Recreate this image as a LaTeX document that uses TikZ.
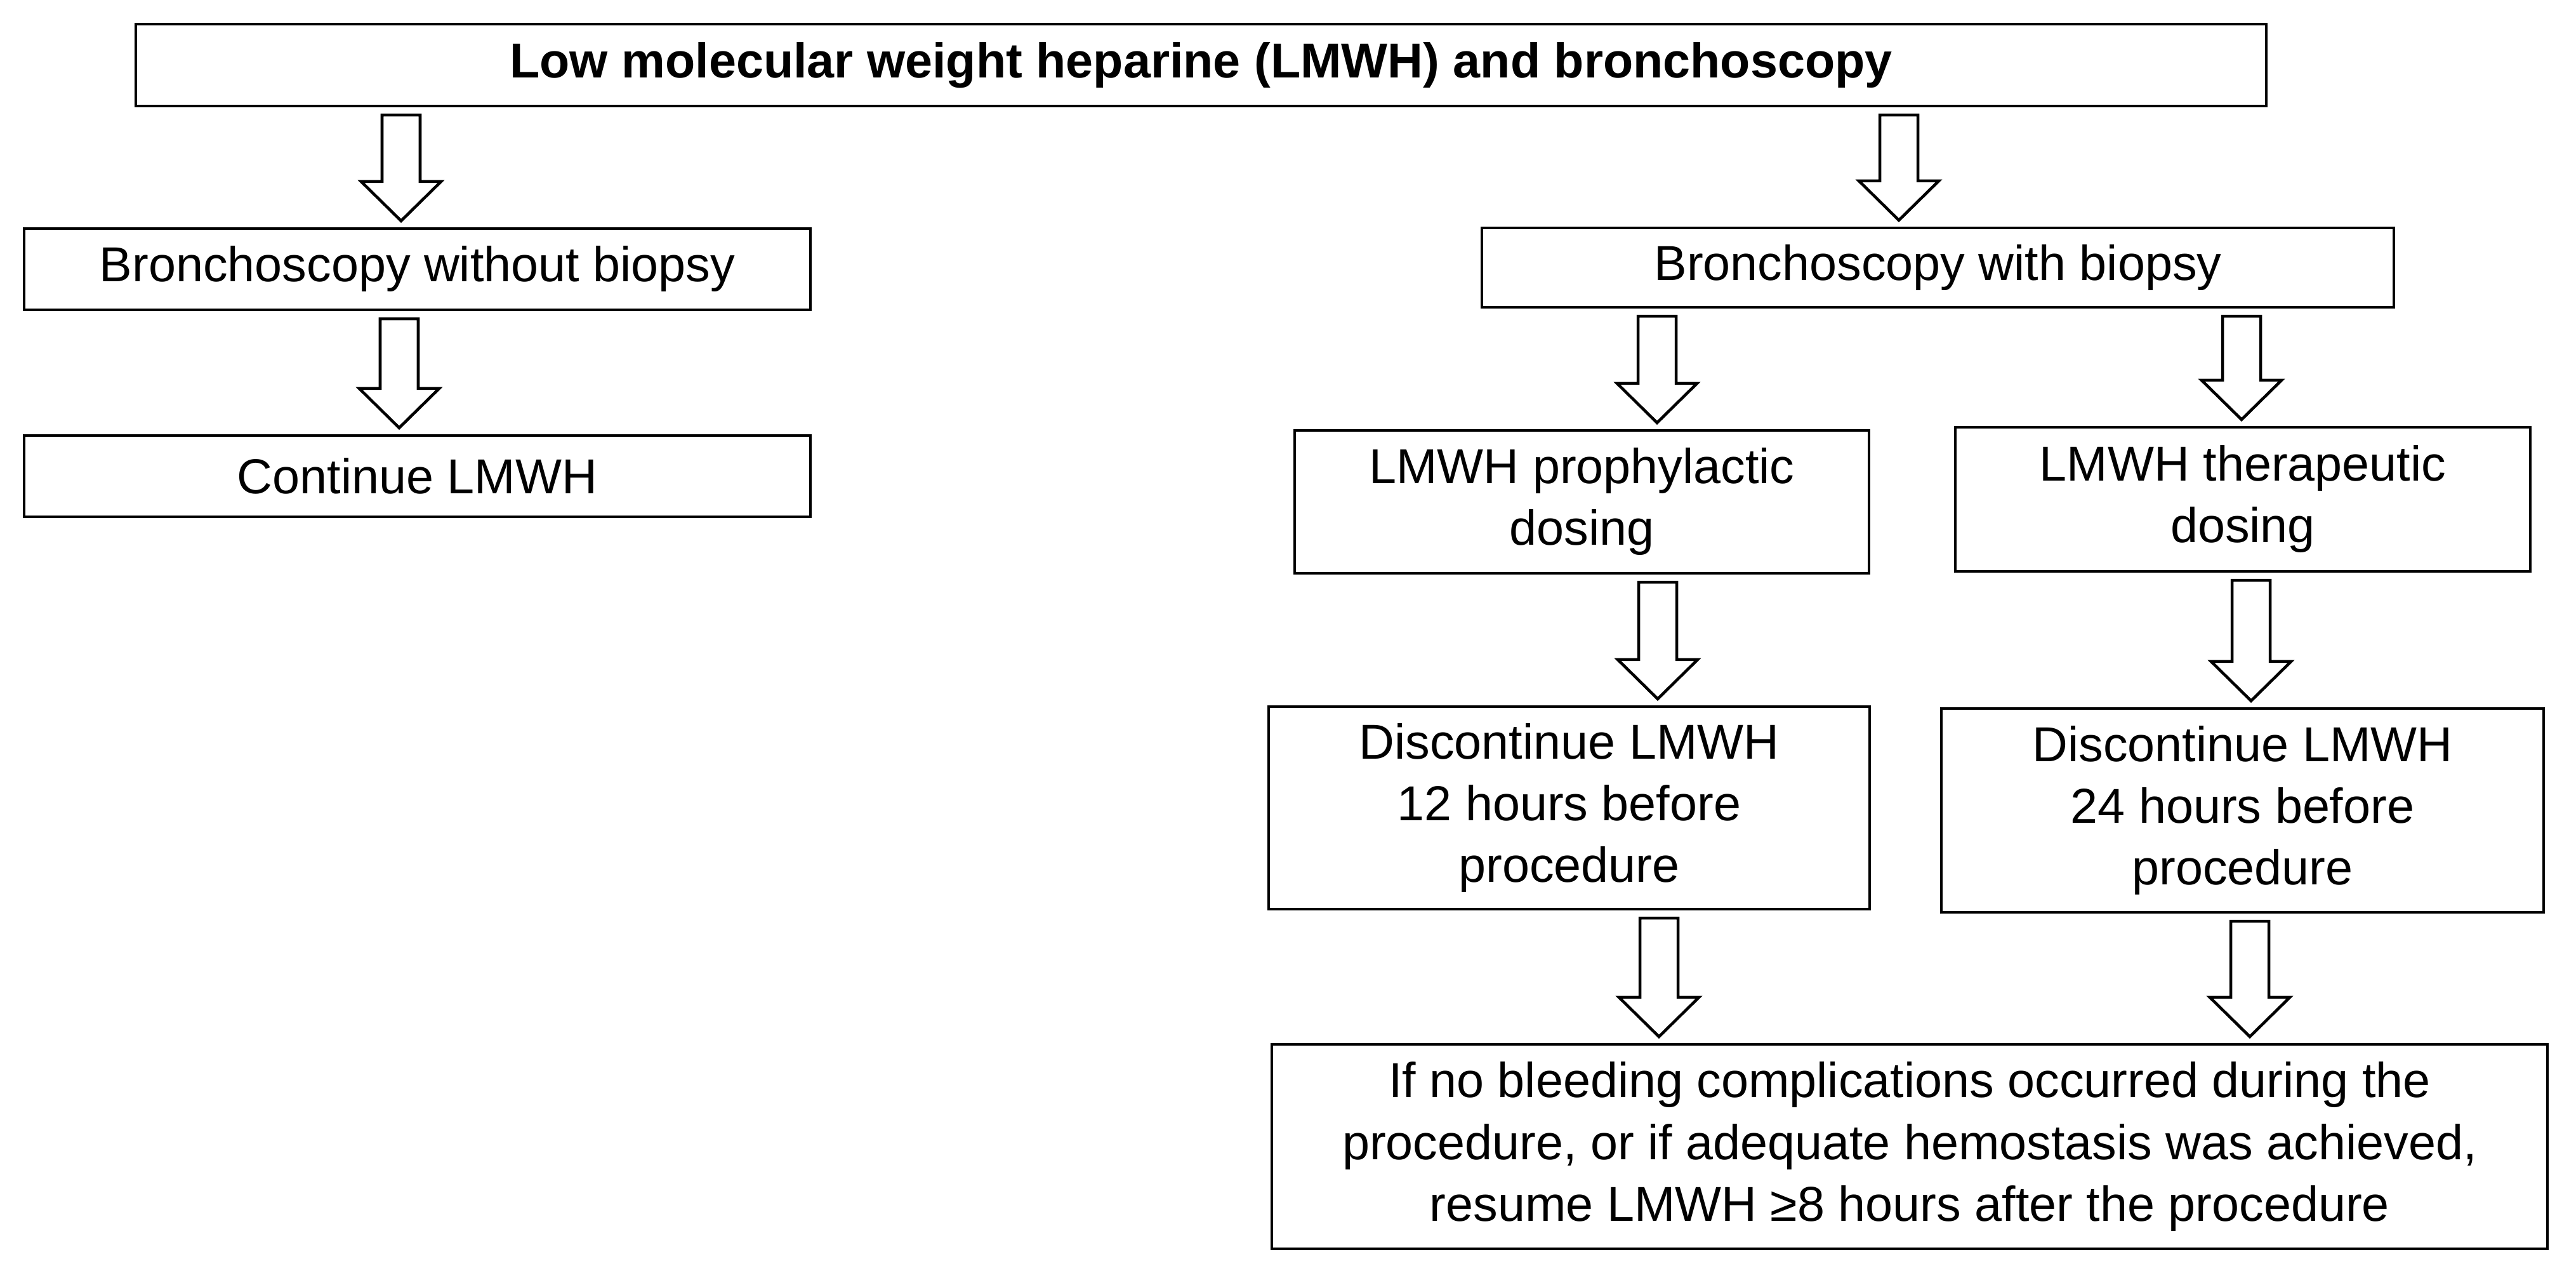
\documentclass[tikz,border=0pt]{standalone}
\usepackage{fontspec}
\setmainfont{Liberation Sans}
\usetikzlibrary{calc}
\tikzset{
  box/.style={draw=black, line width=1.2pt, rectangle, align=center, inner sep=0pt,
              font=\fontsize{22}{27.6}\selectfont},
  blockarr/.style={draw=black, line width=1.3pt, fill=white, line join=miter},
}
\newcommand{\blockarrow}[3]{%
  \draw[blockarr] let \p1=(#2.south), \p2=(#3.north) in
    ({#1cm-0.30cm},{\y1-0.12cm}) -- ({#1cm+0.30cm},{\y1-0.12cm})
    -- ({#1cm+0.30cm},{\y2+0.72cm}) -- ({#1cm+0.63cm},{\y2+0.72cm})
    -- ({#1cm},{\y2+0.10cm}) -- ({#1cm-0.63cm},{\y2+0.72cm})
    -- ({#1cm-0.30cm},{\y2+0.72cm}) -- cycle;}
\begin{document}
\begin{tikzpicture}
\useasboundingbox[fill=white] (0,0) rectangle (40.59,-20.13);

\node[box, minimum width=33.57cm, minimum height=1.29cm] (top) at (18.925,-1.025)
  {\bfseries Low molecular weight heparine (LMWH) and bronchoscopy};

\node[box, minimum width=12.39cm, minimum height=1.28cm] (bwo) at (6.575,-4.24)
  {Bronchoscopy without biopsy};
\node[box, minimum width=12.39cm, minimum height=1.28cm] (cont) at (6.575,-7.50)
  {Continue LMWH};

\node[box, minimum width=14.37cm, minimum height=1.25cm] (bwb) at (30.535,-4.215)
  {Bronchoscopy with biopsy};

\node[box, minimum width=9.05cm, minimum height=2.25cm] (pro) at (24.925,-7.905)
  {LMWH prophylactic\\dosing};
\node[box, minimum width=9.06cm, minimum height=2.27cm] (the) at (35.34,-7.865)
  {LMWH therapeutic\\dosing};

\node[box, minimum width=9.47cm, minimum height=3.19cm] (d12) at (24.725,-12.725)
  {Discontinue LMWH\\12 hours before\\procedure};
\node[box, minimum width=9.49cm, minimum height=3.21cm] (d24) at (35.335,-12.765)
  {Discontinue LMWH\\24 hours before\\procedure};

\node[box, minimum width=20.10cm, minimum height=3.22cm] (bot) at (30.09,-18.06)
  {If no bleeding complications occurred during the\\procedure, or if adequate hemostasis was achieved,\\resume LMWH \symbol{"2265}8 hours after the procedure};

\blockarrow{6.32}{top}{bwo}
\blockarrow{29.92}{top}{bwb}
\blockarrow{6.29}{bwo}{cont}
\blockarrow{26.11}{bwb}{pro}
\blockarrow{35.32}{bwb}{the}
\blockarrow{26.12}{pro}{d12}
\blockarrow{35.47}{the}{d24}
\blockarrow{26.14}{d12}{bot}
\blockarrow{35.45}{d24}{bot}
\end{tikzpicture}
\end{document}
